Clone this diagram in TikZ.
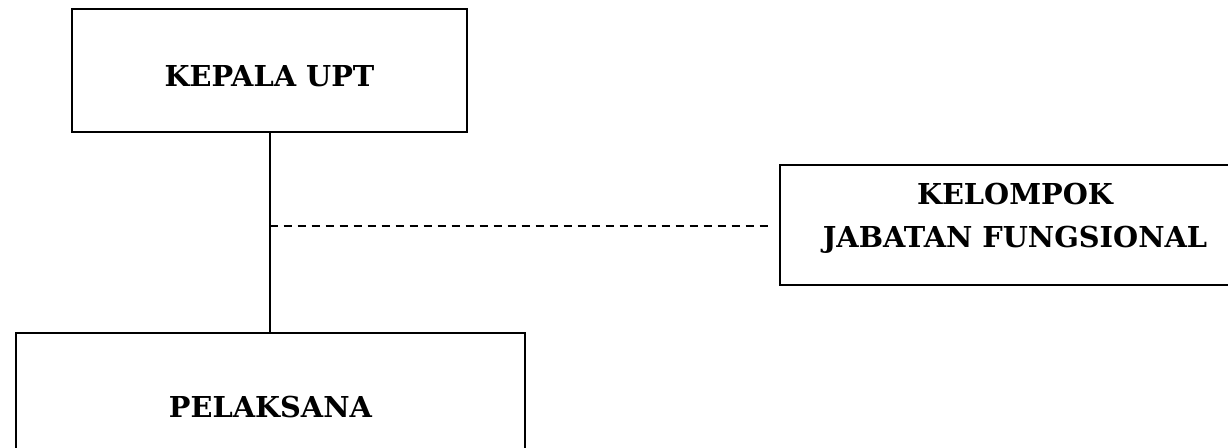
\documentclass[tikz,border=0pt]{standalone}
\usepackage{fontspec}
\setmainfont{DejaVu Serif}
\begin{document}
\begin{tikzpicture}[x=0.75pt,y=-0.75pt,
  orgbox/.style={draw=black, line width=1.5pt, rectangle, inner sep=0pt},
  orglabel/.style={font=\fontsize{21.6}{32}\selectfont\bfseries, align=center, inner sep=0pt},
  link/.style={line width=1.5pt},
  staff/.style={line width=1.5pt, dash pattern=on 6pt off 4.5pt}]
\useasboundingbox (0,0) rectangle (1228,448);
\clip (0,0) rectangle (1228,448);
% boxes
\node[orgbox, minimum width=395*0.75pt, minimum height=123*0.75pt] (kepala) at (269.5,70.5) {};
\node[orgbox, minimum width=470*0.75pt, minimum height=120*0.75pt] (kjf) at (1015,225.5) {};
\node[orgbox, minimum width=509*0.75pt, minimum height=200*0.75pt] (pelaksana) at (270.5,433) {};
% labels
\node[orglabel] (kepalaT) at (269.5,76) {KEPALA UPT};
\node[orglabel] (kjfT) at (1015,218) {KELOMPOK\\JABATAN FUNGSIONAL};
\node[orglabel] (pelaksanaT) at (270.5,407) {PELAKSANA};
% connectors
\coordinate (mid) at (kepala.south |- 0,226);
\coordinate (kjfend) at (768,226);
\draw[link] (kepala.south) -- (kepala.south |- pelaksana.north);
\draw[staff] (mid) -- (kjfend);
\end{tikzpicture}
\end{document}
